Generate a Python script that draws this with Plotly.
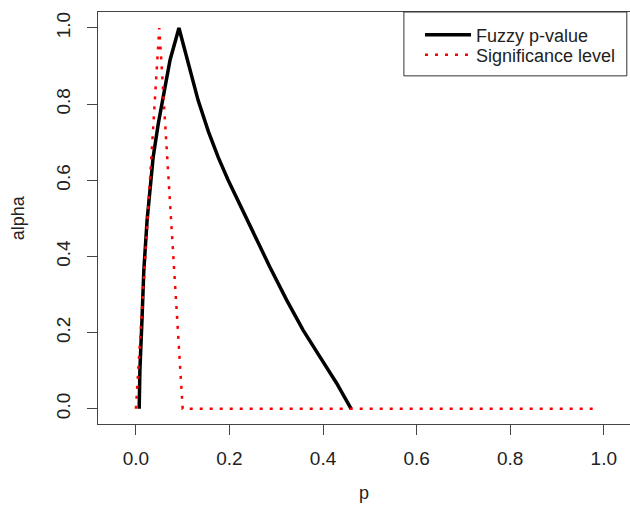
import plotly.graph_objects as go

# ---- data ----
fuzzy_p = [0.007, 0.0085, 0.013, 0.017, 0.024, 0.031, 0.037, 0.048, 0.058, 0.073, 0.092,
           0.112, 0.133, 0.155, 0.176, 0.197, 0.219, 0.251, 0.286, 0.322, 0.357, 0.393, 0.429, 0.46]
fuzzy_alpha = [0.0, 0.10, 0.234, 0.365, 0.496, 0.583, 0.662, 0.750, 0.820, 0.916, 1.0,
               0.910, 0.810, 0.728, 0.660, 0.601, 0.545, 0.461, 0.373, 0.286, 0.207, 0.137, 0.067, 0.0]

sig_p = [0.0, 0.05, 0.10, 0.99]
sig_alpha = [0.0, 1.0, 0.0, 0.0]

x_ticks = [0.0, 0.2, 0.4, 0.6, 0.8, 1.0]
x_tick_labels = ["0.0", "0.2", "0.4", "0.6", "0.8", "1.0"]
y_ticks = [0.0, 0.2, 0.4, 0.6, 0.8, 1.0]
y_tick_labels = ["0.0", "0.2", "0.4", "0.6", "0.8", "1.0"]

FONT = "Liberation Sans, Arial, sans-serif"
AXC = "#444444"
TXT = "#222222"

fig = go.Figure()
fig.add_trace(go.Scatter(x=fuzzy_p, y=fuzzy_alpha, mode="lines", name="Fuzzy p-value",
                         legend="legend",
                         line=dict(color="black", width=3.5)))
fig.add_trace(go.Scatter(x=sig_p, y=sig_alpha, mode="lines", name="Significance level",
                         legend="legend2",
                         line=dict(color="red", width=2.5, dash="3px,7px")))

leg_common = dict(xanchor="left", yanchor="top", bgcolor="rgba(0,0,0,0)", borderwidth=0,
                  font=dict(size=18, color=TXT), itemwidth=46)

fig.update_layout(
    width=630, height=509,
    margin=dict(l=98, r=0, t=12, b=85),
    paper_bgcolor="white", plot_bgcolor="white",
    font=dict(family=FONT, size=19, color=TXT),
    showlegend=True,
    legend=dict(x=0.6053, y=0.989, **leg_common),
    legend2=dict(x=0.6053, y=0.9405, **leg_common),
    xaxis=dict(range=[-0.081, 1.056], tickvals=x_ticks, ticktext=x_tick_labels,
               showgrid=False, zeroline=False, showline=True, mirror=True,
               linecolor=AXC, linewidth=1, ticks="outside", ticklen=10,
               tickcolor=AXC, tickwidth=1, ticklabelstandoff=7),
    yaxis=dict(range=[-0.04, 1.042], tickvals=y_ticks, ticktext=y_tick_labels,
               showgrid=False, zeroline=False, showline=True, mirror=False,
               linecolor=AXC, linewidth=1, ticks="outside", ticklen=10,
               tickcolor=AXC, tickwidth=1, tickangle=-90, ticklabelstandoff=9),
    shapes=[dict(type="rect", xref="paper", yref="paper",
                 x0=0.575, x1=0.994, y0=0.845, y1=1.0,
                 line=dict(color="#333333", width=1), fillcolor="rgba(0,0,0,0)")],
    annotations=[
        dict(text="p", xref="paper", yref="paper", x=0.5, y=-0.1675,
             xanchor="center", yanchor="middle", showarrow=False,
             font=dict(size=18, color=TXT)),
        dict(text="alpha", xref="paper", yref="paper", x=-0.150, y=0.5,
             xanchor="center", yanchor="middle", textangle=-90, showarrow=False,
             font=dict(size=18, color=TXT)),
    ],
)

fig.write_html("out.html", config={"displayModeBar": False},
               post_script="document.body.style.margin='0';document.body.style.overflow='hidden';")
